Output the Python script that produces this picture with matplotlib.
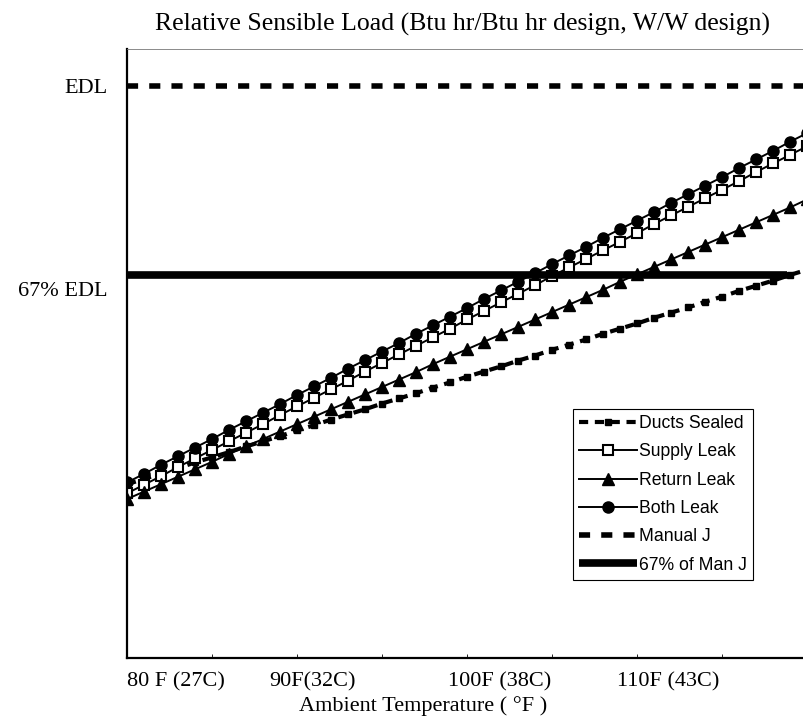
import matplotlib
matplotlib.use('Agg')
import matplotlib.pyplot as plt
import numpy as np

### Data (relative sensible load, EDL = 1.0) ###

temps_f = list(range(80, 121))

ducts_sealed = [0.304, 0.313, 0.323, 0.332, 0.342, 0.351, 0.360, 0.370, 0.379, 0.388,
                0.398, 0.407, 0.417, 0.426, 0.435, 0.445, 0.454, 0.463, 0.473, 0.482,
                0.492, 0.501, 0.510, 0.520, 0.529, 0.539, 0.548, 0.557, 0.567, 0.576,
                0.585, 0.595, 0.604, 0.613, 0.623, 0.632, 0.642, 0.651, 0.660, 0.670,
                0.679]
supply_leak = [0.288, 0.303, 0.318, 0.334, 0.349, 0.364, 0.379, 0.394, 0.409, 0.425,
               0.440, 0.455, 0.470, 0.485, 0.501, 0.516, 0.531, 0.546, 0.561, 0.576,
               0.592, 0.607, 0.622, 0.637, 0.652, 0.668, 0.683, 0.698, 0.713, 0.728,
               0.743, 0.759, 0.774, 0.789, 0.804, 0.819, 0.834, 0.850, 0.865, 0.880,
               0.895]
return_leak = [0.278, 0.291, 0.304, 0.317, 0.330, 0.343, 0.357, 0.370, 0.383, 0.396,
               0.409, 0.422, 0.435, 0.448, 0.461, 0.474, 0.487, 0.500, 0.514, 0.527,
               0.540, 0.553, 0.566, 0.579, 0.592, 0.605, 0.618, 0.631, 0.644, 0.658,
               0.671, 0.684, 0.697, 0.710, 0.723, 0.736, 0.749, 0.762, 0.775, 0.788,
               0.802]
both_leak = [0.307, 0.322, 0.338, 0.353, 0.368, 0.383, 0.399, 0.414, 0.429, 0.444,
             0.460, 0.475, 0.490, 0.506, 0.521, 0.536, 0.551, 0.567, 0.582, 0.597,
             0.612, 0.628, 0.643, 0.658, 0.673, 0.689, 0.704, 0.719, 0.735, 0.750,
             0.765, 0.780, 0.796, 0.811, 0.826, 0.841, 0.857, 0.872, 0.887, 0.903,
             0.918]

manual_j_x = [80, 120]
manual_j = [1.0, 1.0]
man_j_67_x = [80, 118.8]
man_j_67 = [0.67, 0.67]

xtick_pos = [82.9, 90.9, 101.9, 111.8]
xtick_labels = ['80 F (27C)', '90F(32C)', '100F (38C)', '110F (43C)']
ytick_pos = [1.0, 0.645]
ytick_labels = ['EDL', '67% EDL']

SERIF = 'Liberation Serif'
SANS = 'Liberation Sans'

fig = plt.figure(figsize=(8.04, 7.27), dpi=100)
ax = fig.add_axes([0.158, 0.0949, 0.846, 0.8377])

ax.plot(temps_f, ducts_sealed, color='black', lw=3, ls=(0, (2.2, 1.6)),
        marker='s', ms=4.5, mfc='black', mec='black', label='Ducts Sealed')
ax.plot(temps_f, supply_leak, color='black', lw=1.4, marker='s', ms=7.5,
        mfc='white', mec='black', mew=1.5, label='Supply Leak')
ax.plot(temps_f, return_leak, color='black', lw=1.4, marker='^', ms=8.5,
        mfc='black', mec='black', label='Return Leak')
ax.plot(temps_f, both_leak, color='black', lw=1.4, marker='o', ms=8,
        mfc='black', mec='black', label='Both Leak')
ax.plot(manual_j_x, manual_j, color='black', lw=4, ls=(0, (2, 2)),
        solid_capstyle='butt', label='Manual J')
ax.plot(man_j_67_x, man_j_67, color='black', lw=5.5, solid_capstyle='butt',
        label='67% of Man J')

ax.set_xlim(80, 120)
ax.set_ylim(0, 1.065)

ax.set_xticks(xtick_pos)
ax.set_xticklabels(xtick_labels, family=SERIF, fontsize=16)
ax.set_xticks(np.arange(85, 120, 5), minor=True)
ax.tick_params(axis='x', which='major', length=0, pad=10)
ax.tick_params(axis='x', which='minor', direction='in', length=3, width=0.6)

ax.set_yticks(ytick_pos)
ax.set_yticklabels(ytick_labels, family=SERIF, fontsize=16)
ax.tick_params(axis='y', which='major', length=0, pad=14)

ax.set_xlabel('Ambient Temperature ( °F )', family=SERIF, fontsize=16)
ax.xaxis.set_label_coords(0.435, -0.062)

ax.spines['left'].set_linewidth(1.6)
ax.spines['bottom'].set_linewidth(1.6)
ax.spines['top'].set_linewidth(0.6)
ax.spines['top'].set_color('#777777')
ax.spines['right'].set_visible(False)

fig.text(0.575, 0.967, 'Relative Sensible Load (Btu hr/Btu hr design, W/W design)',
         family=SERIF, fontsize=18.5, ha='center', va='center')

leg = ax.legend(loc='upper left', bbox_to_anchor=(0.7127, 0.4374),
                bbox_transform=fig.transFigure, prop={'family': SANS, 'size': 12.7},
                handlelength=3.3, handletextpad=0.1, labelspacing=0.64,
                borderpad=0.35, borderaxespad=0, fancybox=False, framealpha=1,
                edgecolor='black')
leg.get_frame().set_linewidth(0.8)

plt.savefig('out.png', dpi=100)
plt.close()
